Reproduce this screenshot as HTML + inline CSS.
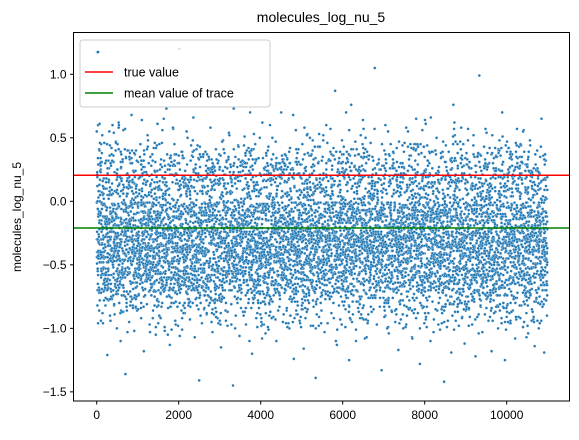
<!DOCTYPE html>
<html><head><meta charset="utf-8"><style>
body{margin:0;background:#fff}
svg{font-family:"Liberation Sans","DejaVu Sans",sans-serif}
</style></head><body>
<svg id="chart" width="579" height="435" viewBox="0 0 579 435" xmlns="http://www.w3.org/2000/svg">
<text x="321" y="22" font-size="14" text-anchor="middle">molecules_log_nu_5</text>
<text transform="translate(21,217) rotate(-90)" font-size="12" text-anchor="middle">molecules_log_nu_5</text>
<g id="points"></g>
<g id="lines"></g>
<rect x="73.5" y="32.5" width="496" height="368.5" fill="none" stroke="#000" stroke-width="1"/>
<g id="ticks"></g>
<g>
<rect x="80" y="40" width="190" height="67" rx="3" fill="#fff" fill-opacity="0.8" stroke="#ccc"/>
<circle cx="98" cy="52" r="1.4" fill="#1f77b4"/>
<line x1="85" y1="72" x2="113" y2="72" stroke="red" stroke-width="1.5"/>
<text x="124" y="76.5" font-size="12.5">true value</text>
<line x1="85" y1="93" x2="113" y2="93" stroke="green" stroke-width="1.5"/>
<text x="124" y="97.5" font-size="12.5">mean value of trace</text>
</g>
</svg>
<script>
const xTicks=[0,2000,4000,6000,8000,10000];
const yTicks=[1.0,0.5,0.0,-0.5,-1.0,-1.5];
const trueValue=0.205;
const meanValue=-0.21;
const maxIter=10990;
const traceHundredths=[
117,-40,12,-55,-96,3,-31,41,-22,-78,-8,-45,25,-60,-15,38,-33,-88,5,-27,-52,18,-70,-12,-39,30,-4,-62,-20,10,
-48,-121,22,-35,-68,2,-18,55,-42,-90,-9,-30,28,-58,-24,14,-75,-3,-50,36,-14,-82,-37,8,-65,-26,47,-44,-6,-100,
-29,19,-57,-13,-36,60,-80,-21,4,-46,-110,26,-32,-66,-1,-52,33,-17,-87,-40,11,-60,-25,57,-136,-7,-43,21,-71,-19,
-34,6,-56,40,-11,-95,-28,16,-63,-38,0,-49,68,-23,-77,-5,-41,24,-59,-15,-102,-30,37,-53,-10,-84,-27,13,-67,-2,
-45,31,-20,-73,-35,9,-58,-16,45,-41,-92,-8,-31,20,-64,-24,3,-50,-118,-12,27,-37,-69,-4,-55,15,-28,-81,-44,52,
-18,-61,-33,7,-47,-97,-22,35,-39,-6,-74,-26,17,-54,-14,-86,-32,42,-65,-9,-43,23,-20,-105,-36,1,-57,-29,61,-48,
-11,-79,-25,12,-40,-91,-3,29,-62,-17,-51,46,-34,-7,-70,-23,18,-56,-13,-99,-38,5,-45,-27,73,-66,-10,-42,25,-84,
-19,-53,10,-31,-113,-5,-60,34,-22,-76,-36,2,-49,-15,57,-68,-28,-8,-44,21,-94,-33,14,-58,-1,-39,-83,30,-24,-63,
-12,-47,120,-30,-72,4,-55,-18,39,-41,-101,-9,-35,19,-66,-26,-2,-52,-88,24,-14,-61,-37,8,-45,-21,50,-77,-31,-6,
-57,15,-40,-93,-16,32,-64,-27,-48,11,-11,-80,-34,66,-53,-4,-42,-107,-20,26,-59,-29,1,-69,-36,16,-46,-13,-85,-25,
-141,-39,43,-62,-7,-50,20,-32,-96,-17,6,-56,-23,37,-74,-43,-1,-10,-65,-28,28,-48,-89,-19,-38,12,-58,-5,-82,33,
-26,-47,-15,58,-71,-34,3,-54,-22,-103,-9,22,-40,-63,-30,9,-45,-78,-12,41,-60,-25,-2,-51,-92,17,-35,-68,-18,-8,
-44,27,-57,-29,-115,-14,6,-41,-75,-33,48,-21,-52,-3,-64,-37,14,-86,-11,-46,31,-27,-59,-98,0,-36,-16,54,-70,-43,
-6,-24,19,-55,-81,-31,7,-49,-13,-145,-39,23,-67,-20,-4,-53,35,-90,-28,-42,10,-61,-17,-76,44,-34,-8,-48,-106,-23,
16,-57,-30,2,-72,-14,29,-45,-87,-37,-1,-62,-19,51,-40,-9,-55,-97,-26,13,-66,-32,21,-11,-80,-47,5,-58,-24,38,
-35,-69,-15,-3,-52,-120,-28,25,-43,-63,-10,8,-74,-38,45,-21,-56,-92,-32,15,-48,-5,-65,-27,34,-84,-13,-41,-2,-59,
-29,20,-95,-37,-18,62,-51,-7,-44,-73,-25,11,-60,-34,27,-88,-15,-50,4,-68,-31,40,-22,-101,-40,-8,-55,18,-78,-26,
-45,-12,33,-63,-35,1,-54,-91,-19,24,-47,-3,-70,-30,47,-39,-110,-16,9,-58,-23,-66,30,-42,-6,-83,-33,14,-52,-20,
70,-61,-28,-1,-45,-95,-11,22,-57,-37,-72,6,-25,-49,36,-17,-86,-40,-4,-62,-29,17,-53,-9,-100,-34,42,-68,-21,-46,
3,-79,-31,26,-14,-58,-39,-124,-23,12,-65,-5,-50,56,-36,-89,-18,-43,8,-71,-27,31,-56,-10,-94,-38,19,-47,-24,-2,
-63,-32,45,-80,-15,-53,-116,-28,10,-41,-67,-7,24,-49,-22,-87,-35,53,-60,-13,-44,-3,-74,-30,15,-55,-19,-98,-37,37,
-11,-62,-26,5,-46,-83,-33,28,-68,-17,-52,-139,-21,18,-40,-8,-77,-29,43,-57,-14,-91,-36,11,-64,-24,-1,-48,-86,32,
-31,-59,-12,-70,-38,21,-45,-103,-20,7,-54,-27,60,-66,-9,-42,-96,-34,16,-61,-22,-5,-75,-30,39,-50,-15,-88,-41,25,
-25,-1,-58,-80,-35,13,-47,-18,87,-65,-28,-8,-53,-113,-38,23,-43,-12,-72,-31,34,-60,-20,-93,-46,4,-56,-26,48,-69,
-14,-39,-4,-82,-33,18,-51,-10,-99,-29,30,-63,-21,-48,8,-76,-37,-2,-55,-125,-16,27,-44,-71,-30,76,-58,-11,-40,12,
-89,-24,-52,-6,-67,-35,20,-47,-13,-101,-27,41,-61,-18,-43,2,-79,-32,16,-56,-9,-92,-39,52,-23,-64,-14,-3,-49,-84,
-30,25,-70,-20,-45,-108,-36,10,-57,-25,35,-62,-7,-41,-94,-28,19,-53,-15,-2,-76,-34,46,-48,-11,-87,-38,14,-65,-22,
-41,6,-59,-31,105,-13,-74,-26,22,-50,-97,-37,3,-44,-19,-66,33,-8,-55,-83,-29,17,-62,-24,-133,-40,28,-47,-16,-5,
-71,-33,40,-58,-12,-90,-36,9,-52,-27,-1,-77,-21,55,-43,-104,-30,15,-64,-17,-49,26,-10,-86,-39,4,-60,-25,-69,38,
-35,-15,-54,-2,-95,-28,21,-46,-72,-38,12,-61,-20,-117,-32,47,-50,-8,-81,-24,30,-57,-42,-4,-67,-13,-89,-34,18,-45,
-22,-63,7,-40,-99,-27,58,-53,-11,-75,-36,24,-48,-18,-6,-85,-31,13,-69,-43,36,-23,-55,-107,-14,2,-60,-29,42,-39,
-78,-9,-50,19,-33,-92,-25,-1,-64,-44,29,-17,-71,-37,10,-56,-128,-21,45,-47,-7,-82,-30,16,-59,-15,-3,-68,-35,-96,
-41,64,-26,-52,6,-76,-12,-45,32,-62,-20,-88,-38,-5,-54,22,-31,-110,-16,-65,11,-43,-24,-79,39,-48,-9,-93,-34,14,
-57,-28,-2,-70,-19,50,-46,-86,-36,8,-61,-23,27,-52,-13,-101,-40,-7,-66,17,-30,-83,-44,35,-25,-58,-11,-142,-38,4,
-51,-21,44,-74,-33,-4,-63,-16,-94,-42,20,-55,-27,-9,-80,12,-37,-48,-119,-18,31,-60,-24,-3,-69,-35,57,-45,-12,-87,
-30,15,-53,-22,-1,-77,-39,26,-64,-14,-98,-32,9,-49,-26,-72,41,-43,-8,-58,-91,-20,18,-36,-66,-2,-51,-112,-29,34,
-41,-15,-75,-33,5,-56,-24,48,-68,-10,-85,-38,21,-47,-19,-4,-62,-30,13,-97,-44,-7,-54,37,-25,-79,-35,-1,-60,-122,
-17,28,-50,-31,-71,-12,10,-46,-89,-39,99,-22,-58,-6,-67,-34,24,-41,-15,-103,-28,3,-55,-20,43,-73,-37,-9,-63,17,
-32,-84,-48,7,-26,-57,-13,-94,-40,30,-52,-3,-70,-23,12,-45,-118,-35,52,-61,-16,-8,-78,-29,21,-54,-42,-87,-11,36,
-38,-65,-19,1,-50,-100,-27,25,-59,-6,-74,-33,14,-44,-21,-92,-36,70,-53,-12,-2,-68,-30,19,-47,-125,-24,8,-62,-39,
-15,39,-56,-81,-34,-5,-45,23,-27,-96,-18,-60,4,-71,-41,33,-51,-10,-86,-28,15,-63,-22,-1,-57,-108,-36,46,-43,-14,
-76,-31,9,-48,-20,-91,-38,27,-66,-7,-53,-25,-3,-82,18,-35,-61,-13,-99,-44,56,-29,-70,-4,-50,11,-40,-17,-88,-32,
-58,29,-23,-104,-46,2,-64,-11,-36,44,-73,-26,-53,-8,-85,-19,15,-42,-93,-31,-1,-60,-114,-21,37,-49,-14,-77,-34,6,
-55,-27,-3,-68,-40,22,-16,-96,-47,10,-62,-24,65,-52,-9,-83,-36,17,-58,-18,-119,-43,1,-70,-29,32,-45,-12,-90,-37
];
const passStrides=[1,7,13,19,23,29,31];
const passRanges=[[-200,200],[-110,78],[-100,65],[-85,45],[-85,45],[-80,40],[-75,38]];
const svgNS="http://www.w3.org/2000/svg";
const X0=73.5,X1=569.5,Y0=32.5,Y1=401;
const xMin=-566,xMax=11532,yMin=-1.572,yMax=1.329;
function xScale(v){return X0+(v-xMin)/(xMax-xMin)*(X1-X0);}
function yScale(v){return Y1-(v-yMin)/(yMax-yMin)*(Y1-Y0);}
const pts=document.getElementById('points');
const n=traceHundredths.length;
const P=passStrides.length;
for(let k=0;k<P;k++){
  for(let i=0;i<n;i++){
    const idx=k===0?i:(i*passStrides[k]+k*37)%n;
    const v=traceHundredths[idx];
    if(v<passRanges[k][0]||v>passRanges[k][1])continue;
    const it=Math.min(maxIter,(i+k/P)*maxIter/(n-1));
    const c=document.createElementNS(svgNS,'circle');
    
    
    c.setAttribute('cx',xScale(it).toFixed(2));
    c.setAttribute('cy',yScale(v/100).toFixed(2));
    c.setAttribute('r','1.4');
    c.setAttribute('fill','#1f77b4');
    c.setAttribute('stroke','#fff');
    c.setAttribute('stroke-width','0.25');
    pts.appendChild(c);
  }
}
const lines=document.getElementById('lines');
function hline(v,col,name){
  const l=document.createElementNS(svgNS,'line');
  
  
  l.setAttribute('x1',X0);l.setAttribute('x2',X1);
  l.setAttribute('y1',yScale(v));l.setAttribute('y2',yScale(v));
  l.setAttribute('stroke',col);l.setAttribute('stroke-width','1.5');
  lines.appendChild(l);
}
hline(trueValue,'red','true-value-line');
hline(meanValue,'green','mean-value-line');
const tk=document.getElementById('ticks');
xTicks.forEach(v=>{
  const x=xScale(v);
  const l=document.createElementNS(svgNS,'line');
  
  
  l.setAttribute('x1',x);l.setAttribute('x2',x);l.setAttribute('y1',Y1);l.setAttribute('y2',Y1+3.5);
  l.setAttribute('stroke','#000');tk.appendChild(l);
  const t=document.createElementNS(svgNS,'text');
  
  
  t.setAttribute('x',x);t.setAttribute('y',Y1+18);t.setAttribute('font-size','12');t.setAttribute('text-anchor','middle');
  t.textContent=String(v);tk.appendChild(t);
});
yTicks.forEach(v=>{
  const y=yScale(v);
  const l=document.createElementNS(svgNS,'line');
  
  
  l.setAttribute('x1',X0-3.5);l.setAttribute('x2',X0);l.setAttribute('y1',y);l.setAttribute('y2',y);
  l.setAttribute('stroke','#000');tk.appendChild(l);
  const t=document.createElementNS(svgNS,'text');
  
  
  t.setAttribute('x',X0-7);t.setAttribute('y',y+4.3);t.setAttribute('font-size','12');t.setAttribute('text-anchor','end');
  t.textContent=(v<0?'\u2212':'')+Math.abs(v).toFixed(1);tk.appendChild(t);
});
</script>
</body></html>
